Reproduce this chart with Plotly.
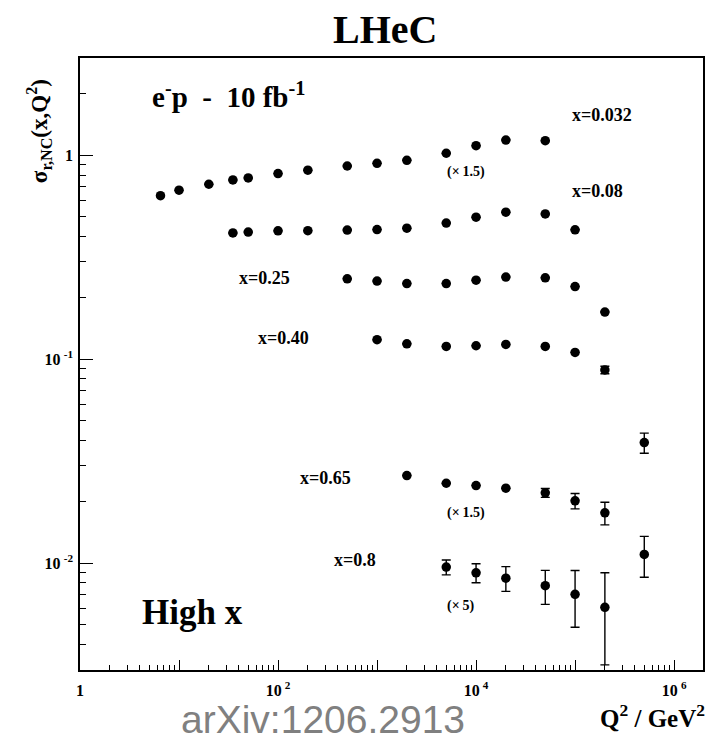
import plotly.graph_objects as go

# ---------------- data ----------------
Q2_032 = [6.5, 10, 20, 35, 50, 100, 200, 500, 1000, 2000, 5000, 10000, 20000, 50000]
sig_032 = [0.634, 0.674, 0.721, 0.757, 0.774, 0.813, 0.845, 0.886, 0.913, 0.945, 1.023, 1.114, 1.188, 1.179]
err_032 = [0] * 14

Q2_08 = [35, 50, 100, 200, 500, 1000, 2000, 5000, 10000, 20000, 50000, 100000]
sig_08 = [0.416, 0.420, 0.426, 0.427, 0.430, 0.432, 0.439, 0.465, 0.497, 0.526, 0.516, 0.431]
err_08 = [0] * 12

Q2_25 = [500, 1000, 2000, 5000, 10000, 20000, 50000, 100000, 200000]
sig_25 = [0.248, 0.2415, 0.235, 0.235, 0.244, 0.2527, 0.2507, 0.2272, 0.1703]
err_25 = [0] * 9

Q2_40 = [1000, 2000, 5000, 10000, 20000, 50000, 100000, 200000, 500000]
sig_40 = [0.1246, 0.119, 0.1155, 0.1164, 0.1181, 0.1155, 0.108, 0.0886, 0.039]
err_40 = [0, 0, 0, 0, 0, 0, 0, 0.0038, 0.0044]

Q2_65 = [2000, 5000, 10000, 20000, 50000, 100000, 200000, 500000]
sig_65 = [0.02688, 0.02465, 0.02402, 0.0233, 0.02212, 0.02021, 0.01765, 0.01103]
err_65 = [0, 0, 0, 0, 0.0011, 0.00175, 0.00224, 0.0025]

Q2_80 = [5000, 10000, 20000, 50000, 100000, 200000]
sig_80 = [0.00956, 0.00897, 0.00844, 0.00775, 0.00703, 0.00607]
err_80 = [0.0008, 0.00096, 0.00117, 0.00147, 0.00218, 0.0029]

x_major = [1, 10, 100, 1e3, 1e4, 1e5, 1e6]
x_major_text = ["1", "", "10\u2009<sup>2</sup>", "", "10\u2009<sup>4</sup>", "", "10\u2009<sup>6</sup>"]
y_major = [0.01, 0.1, 1]
y_major_text = ["10\u2009<sup>-2</sup>", "10\u2009<sup>-1</sup>", "1"]

series = [
    ("x=0.032", Q2_032, sig_032, err_032),
    ("x=0.08", Q2_08, sig_08, err_08),
    ("x=0.25", Q2_25, sig_25, err_25),
    ("x=0.40", Q2_40, sig_40, err_40),
    ("x=0.65", Q2_65, sig_65, err_65),
    ("x=0.8", Q2_80, sig_80, err_80),
]

# ---------------- figure ----------------
SERIF = "Liberation Serif"
fig = go.Figure()
for name, q, s, e in series:
    fig.add_trace(go.Scatter(
        x=q, y=s, mode="markers", name=name,
        marker=dict(symbol="circle", size=9.5, color="black"),
        error_y=dict(type="data", array=e, visible=True, color="black",
                     thickness=1.4, width=4.5),
    ))

x_minor = [m * 10 ** d for d in range(0, 7) for m in range(2, 10) if m * 10 ** d < 2e6]
y_minor = [m * 10.0 ** d for d in range(-3, 1) for m in range(2, 10) if 0.003 <= m * 10.0 ** d <= 3]

fig.update_layout(
    width=707, height=740,
    margin=dict(l=80, r=2, t=58, b=70),
    paper_bgcolor="white", plot_bgcolor="white",
    showlegend=False,
    xaxis=dict(
        type="log", range=[0, 6.292],
        showline=True, linecolor="black", linewidth=1.5, mirror=True,
        showgrid=False, zeroline=False,
        ticks="inside", ticklen=10, tickwidth=1, tickcolor="black",
        tickmode="array", tickvals=x_major, ticktext=x_major_text,
        tickfont=dict(family=SERIF, size=16, color="black", weight="bold"),
        ticklabelstandoff=5,
        minor=dict(ticks="inside", ticklen=5, tickwidth=1, tickcolor="black",
                   tickmode="array", tickvals=x_minor, showgrid=False),
    ),
    yaxis=dict(
        type="log", range=[-2.524, 0.477],
        showline=True, linecolor="black", linewidth=1.5, mirror=True,
        showgrid=False, zeroline=False,
        ticks="inside", ticklen=13, tickwidth=1, tickcolor="black",
        tickmode="array", tickvals=y_major, ticktext=y_major_text,
        tickfont=dict(family=SERIF, size=16, color="black", weight="bold"),
        ticklabelstandoff=2,
        minor=dict(ticks="inside", ticklen=6, tickwidth=1, tickcolor="black",
                   tickmode="array", tickvals=y_minor, showgrid=False),
    ),
)


def px(X):
    return (X - 80) / 625.0


def py(Y):
    return (670 - Y) / 612.0


def text(t, X, Y, size, xanchor="center", yanchor="middle", family=SERIF,
         color="black", bold=True, angle=0):
    fig.add_annotation(
        text=t, x=px(X), y=py(Y), xref="paper", yref="paper",
        xanchor=xanchor, yanchor=yanchor, showarrow=False, textangle=angle,
        font=dict(family=family, size=size, color=color,
                  weight="bold" if bold else "normal"),
    )


text("LHeC", 386, 30, 40)
text("e<sup>-</sup>p  -  10 fb<sup>-1</sup>", 150, 95, 29, xanchor="left")
text("x=0.032", 572, 115, 18, xanchor="left")
text("x=0.08", 572, 191, 18, xanchor="left")
text("x=0.25", 238, 277.5, 18, xanchor="left")
text("x=0.40", 257, 338, 18, xanchor="left")
text("x=0.65", 299, 477.5, 18, xanchor="left")
text("x=0.8", 333, 560, 18, xanchor="left")
text("(\u00d7\u20091.5)", 446, 171.5, 14, xanchor="left")
text("(\u00d7\u20091.5)", 446, 513, 14, xanchor="left")
text("(\u00d7\u20095)", 446, 606, 14, xanchor="left")
text("High x", 140, 612, 35, xanchor="left")
text("Q<sup>2</sup> / GeV<sup>2</sup>", 709, 716, 25, xanchor="right")
text("\u03c3<sub>r,NC</sub>(x,Q<sup>2</sup>)", 38, 131, 23, angle=-90)
text("arXiv:1206.2913", 324, 719.5, 39, family="Liberation Sans", color="#808080", bold=False)

fig.write_html(
    "out.html",
    config={"displayModeBar": False},
    post_script="document.body.style.margin='0px';document.body.style.overflow='hidden';",
)
